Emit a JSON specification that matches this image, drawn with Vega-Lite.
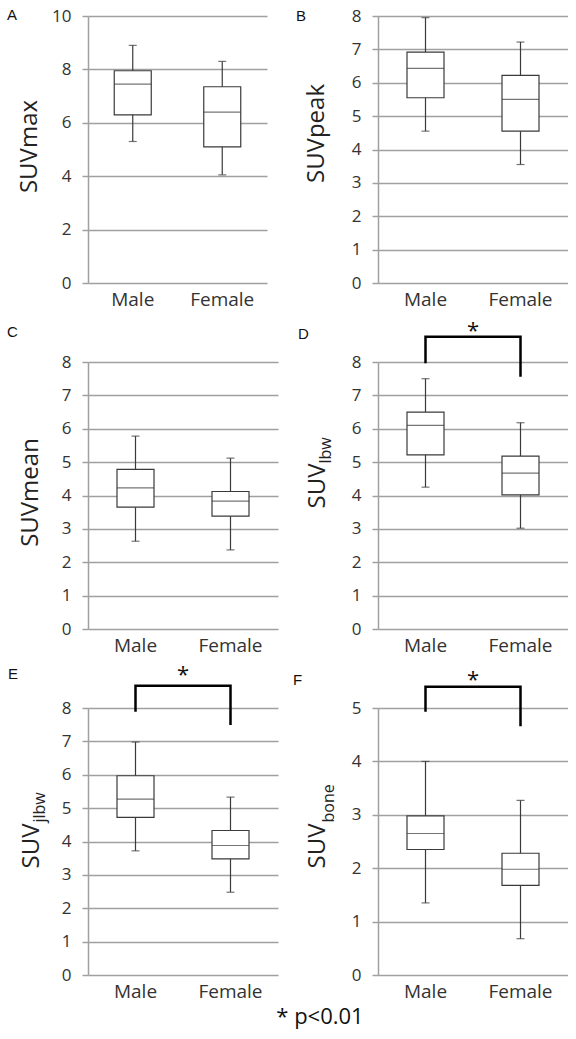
{
  "$schema": "https://vega.github.io/schema/vega-lite/v6.json",
  "padding": {"left": 7, "top": 7, "right": 0, "bottom": 10},
  "background": "white",
  "datasets": {
    "box": [
      {"panel": "A", "sex": "Male", "lo": 5.3, "q1": 6.3, "med": 7.45, "q3": 7.95, "hi": 8.9},
      {"panel": "A", "sex": "Female", "lo": 4.05, "q1": 5.1, "med": 6.4, "q3": 7.35, "hi": 8.3},
      {"panel": "B", "sex": "Male", "lo": 4.55, "q1": 5.55, "med": 6.43, "q3": 6.92, "hi": 7.95},
      {"panel": "B", "sex": "Female", "lo": 3.55, "q1": 4.55, "med": 5.5, "q3": 6.22, "hi": 7.22},
      {"panel": "C", "sex": "Male", "lo": 2.63, "q1": 3.65, "med": 4.23, "q3": 4.78, "hi": 5.78},
      {"panel": "C", "sex": "Female", "lo": 2.37, "q1": 3.38, "med": 3.83, "q3": 4.12, "hi": 5.12},
      {"panel": "D", "sex": "Male", "lo": 4.25, "q1": 5.22, "med": 6.1, "q3": 6.5, "hi": 7.5},
      {"panel": "D", "sex": "Female", "lo": 3.02, "q1": 4.02, "med": 4.67, "q3": 5.18, "hi": 6.18},
      {"panel": "E", "sex": "Male", "lo": 3.72, "q1": 4.72, "med": 5.27, "q3": 5.97, "hi": 6.98},
      {"panel": "E", "sex": "Female", "lo": 2.48, "q1": 3.48, "med": 3.88, "q3": 4.33, "hi": 5.33},
      {"panel": "F", "sex": "Male", "lo": 1.35, "q1": 2.35, "med": 2.65, "q3": 2.98, "hi": 4.0},
      {"panel": "F", "sex": "Female", "lo": 0.68, "q1": 1.68, "med": 1.98, "q3": 2.28, "hi": 3.27}
    ],
    "sig": [
      {"panel": "D", "sex": "Male", "v": 7.96, "o": 1},
      {"panel": "D", "sex": "Male", "v": 8.76, "o": 2},
      {"panel": "D", "sex": "Female", "v": 8.76, "o": 3},
      {"panel": "D", "sex": "Female", "v": 7.56, "o": 4},
      {"panel": "E", "sex": "Male", "v": 7.89, "o": 1},
      {"panel": "E", "sex": "Male", "v": 8.67, "o": 2},
      {"panel": "E", "sex": "Female", "v": 8.67, "o": 3},
      {"panel": "E", "sex": "Female", "v": 7.49, "o": 4},
      {"panel": "F", "sex": "Male", "v": 4.93, "o": 1},
      {"panel": "F", "sex": "Male", "v": 5.4, "o": 2},
      {"panel": "F", "sex": "Female", "v": 5.4, "o": 3},
      {"panel": "F", "sex": "Female", "v": 4.66, "o": 4}
    ],
    "star": [
      {"panel": "D", "sex": "Male", "v": 8.92},
      {"panel": "E", "sex": "Male", "v": 8.98},
      {"panel": "F", "sex": "Male", "v": 5.53}
    ]
  },
  "title": {"text": "* p<0.01", "orient": "bottom", "anchor": "middle", "frame": "group", "font": "Open Sans", "fontSize": 22, "fontWeight": "normal", "color": "#111111", "baseline": "middle", "offset": 16, "dx": 232},
  "columns": 2,
  "align": "all",
  "bounds": "flush",
  "spacing": {"row": 79, "column": 100},
  "config": {
    "view": {"stroke": null},
    "font": "Open Sans",
    "axis": {
      "labelFont": "Open Sans", "labelColor": "#333333",
      "titleFont": "Open Sans", "titleFontWeight": "normal", "titleColor": "#222222",
      "domainColor": "#a0a0a0", "tickColor": "#a0a0a0", "gridColor": "#a0a0a0",
      "domainWidth": 1.5, "tickWidth": 1.5, "gridWidth": 1.5
    },
    "axisY": {"grid": true, "ticks": true, "tickSize": 6, "labelPadding": 11, "labelFontSize": 17, "titleFontSize": 24, "titleAngle": 270, "titleBaseline": "alphabetic", "labelOverlap": false},
    "axisX": {"domain": false, "ticks": false, "grid": false, "labelAngle": 0, "labelPadding": 7, "labelFontSize": 19, "titleFontSize": 16, "titleAngle": 270, "titleBaseline": "alphabetic", "titleAlign": "left"},
    "title": {"font": "Liberation Sans", "fontSize": 15, "fontWeight": "normal", "color": "#111111", "anchor": "start", "frame": "group", "baseline": "middle", "offset": 0}
  },
  "concat": [
    {
      "width": 179, "height": 267,
      "title": {"text": "A", "dx": -81, "dy": 20},
      "data": {"name": "box"},
      "transform": [{"filter": "datum.panel === 'A'"}],
      "encoding": {"x": {"field": "sex", "type": "nominal", "sort": ["Male", "Female"], "scale": {"paddingInner": 0, "paddingOuter": 0}, "axis": {"title": null}}},
      "layer": [
        {"mark": {"type": "rule", "color": "#3a3a3a", "strokeWidth": 1.2}, "encoding": {"y": {"field": "lo", "type": "quantitative", "scale": {"domain": [0, 10]}, "axis": {"values": [0, 2, 4, 6, 8, 10], "title": "SUVmax", "titleX": -52, "titleY": 130, "titleAlign": "center"}}, "y2": {"field": "hi"}}},
        {"mark": {"type": "bar", "fill": "white", "stroke": "#3a3a3a", "strokeWidth": 1.2, "size": 37}, "encoding": {"y": {"field": "q1", "type": "quantitative", "axis": {"values": [0, 2, 4, 6, 8, 10], "title": "SUVmax", "titleX": -52, "titleY": 130, "titleAlign": "center"}}, "y2": {"field": "q3"}}},
        {"mark": {"type": "tick", "color": "#3a3a3a", "size": 37, "thickness": 1.2}, "encoding": {"y": {"field": "med", "type": "quantitative", "axis": {"values": [0, 2, 4, 6, 8, 10], "title": "SUVmax", "titleX": -52, "titleY": 130, "titleAlign": "center"}}}},
        {"mark": {"type": "tick", "color": "#3a3a3a", "size": 8, "thickness": 1.2}, "encoding": {"y": {"field": "lo", "type": "quantitative", "axis": {"values": [0, 2, 4, 6, 8, 10], "title": "SUVmax", "titleX": -52, "titleY": 130, "titleAlign": "center"}}}},
        {"mark": {"type": "tick", "color": "#3a3a3a", "size": 8, "thickness": 1.2}, "encoding": {"y": {"field": "hi", "type": "quantitative", "axis": {"values": [0, 2, 4, 6, 8, 10], "title": "SUVmax", "titleX": -52, "titleY": 130, "titleAlign": "center"}}}}
      ]
    },
    {
      "width": 190, "height": 267,
      "title": {"text": "B", "dx": -82, "dy": 21},
      "data": {"name": "box"},
      "transform": [{"filter": "datum.panel === 'B'"}],
      "encoding": {"x": {"field": "sex", "type": "nominal", "sort": ["Male", "Female"], "scale": {"paddingInner": 0, "paddingOuter": 0}, "axis": {"title": null}}},
      "layer": [
        {"mark": {"type": "rule", "color": "#3a3a3a", "strokeWidth": 1.2}, "encoding": {"y": {"field": "lo", "type": "quantitative", "scale": {"domain": [0, 8]}, "axis": {"values": [0, 1, 2, 3, 4, 5, 6, 7, 8], "title": "SUVpeak", "titleX": -55, "titleY": 117, "titleAlign": "center"}}, "y2": {"field": "hi"}}},
        {"mark": {"type": "bar", "fill": "white", "stroke": "#3a3a3a", "strokeWidth": 1.2, "size": 37}, "encoding": {"y": {"field": "q1", "type": "quantitative", "axis": {"values": [0, 1, 2, 3, 4, 5, 6, 7, 8], "title": "SUVpeak", "titleX": -55, "titleY": 117, "titleAlign": "center"}}, "y2": {"field": "q3"}}},
        {"mark": {"type": "tick", "color": "#3a3a3a", "size": 37, "thickness": 1.2}, "encoding": {"y": {"field": "med", "type": "quantitative", "axis": {"values": [0, 1, 2, 3, 4, 5, 6, 7, 8], "title": "SUVpeak", "titleX": -55, "titleY": 117, "titleAlign": "center"}}}},
        {"mark": {"type": "tick", "color": "#3a3a3a", "size": 8, "thickness": 1.2}, "encoding": {"y": {"field": "lo", "type": "quantitative", "axis": {"values": [0, 1, 2, 3, 4, 5, 6, 7, 8], "title": "SUVpeak", "titleX": -55, "titleY": 117, "titleAlign": "center"}}}},
        {"mark": {"type": "tick", "color": "#3a3a3a", "size": 8, "thickness": 1.2}, "encoding": {"y": {"field": "hi", "type": "quantitative", "axis": {"values": [0, 1, 2, 3, 4, 5, 6, 7, 8], "title": "SUVpeak", "titleX": -55, "titleY": 117, "titleAlign": "center"}}}}
      ]
    },
    {
      "width": 190, "height": 267,
      "title": {"text": "C", "dx": -81, "dy": -9},
      "data": {"name": "box"},
      "transform": [{"filter": "datum.panel === 'C'"}],
      "encoding": {"x": {"field": "sex", "type": "nominal", "sort": ["Male", "Female"], "scale": {"paddingInner": 0, "paddingOuter": 0}, "axis": {"title": null}}},
      "layer": [
        {"mark": {"type": "rule", "color": "#3a3a3a", "strokeWidth": 1.2}, "encoding": {"y": {"field": "lo", "type": "quantitative", "scale": {"domain": [0, 8]}, "axis": {"values": [0, 1, 2, 3, 4, 5, 6, 7, 8], "title": "SUVmean", "titleX": -51, "titleY": 130, "titleAlign": "center"}}, "y2": {"field": "hi"}}},
        {"mark": {"type": "bar", "fill": "white", "stroke": "#3a3a3a", "strokeWidth": 1.2, "size": 37}, "encoding": {"y": {"field": "q1", "type": "quantitative", "axis": {"values": [0, 1, 2, 3, 4, 5, 6, 7, 8], "title": "SUVmean", "titleX": -51, "titleY": 130, "titleAlign": "center"}}, "y2": {"field": "q3"}}},
        {"mark": {"type": "tick", "color": "#3a3a3a", "size": 37, "thickness": 1.2}, "encoding": {"y": {"field": "med", "type": "quantitative", "axis": {"values": [0, 1, 2, 3, 4, 5, 6, 7, 8], "title": "SUVmean", "titleX": -51, "titleY": 130, "titleAlign": "center"}}}},
        {"mark": {"type": "tick", "color": "#3a3a3a", "size": 8, "thickness": 1.2}, "encoding": {"y": {"field": "lo", "type": "quantitative", "axis": {"values": [0, 1, 2, 3, 4, 5, 6, 7, 8], "title": "SUVmean", "titleX": -51, "titleY": 130, "titleAlign": "center"}}}},
        {"mark": {"type": "tick", "color": "#3a3a3a", "size": 8, "thickness": 1.2}, "encoding": {"y": {"field": "hi", "type": "quantitative", "axis": {"values": [0, 1, 2, 3, 4, 5, 6, 7, 8], "title": "SUVmean", "titleX": -51, "titleY": 130, "titleAlign": "center"}}}}
      ]
    },
    {
      "width": 190, "height": 267,
      "title": {"text": "D", "dx": -80, "dy": 26},
      "encoding": {"x": {"field": "sex", "type": "nominal", "sort": ["Male", "Female"], "scale": {"paddingInner": 0, "paddingOuter": 0}, "axis": {"title": "lbw", "titleX": -48, "titleY": -166}}},
      "layer": [
        {"data": {"name": "box"}, "transform": [{"filter": "datum.panel === 'D'"}], "mark": {"type": "rule", "color": "#3a3a3a", "strokeWidth": 1.2}, "encoding": {"y": {"field": "lo", "type": "quantitative", "scale": {"domain": [0, 8]}, "axis": {"values": [0, 1, 2, 3, 4, 5, 6, 7, 8], "title": "SUV", "titleX": -54, "titleY": 101, "titleAlign": "right"}}, "y2": {"field": "hi"}}},
        {"data": {"name": "box"}, "transform": [{"filter": "datum.panel === 'D'"}], "mark": {"type": "bar", "fill": "white", "stroke": "#3a3a3a", "strokeWidth": 1.2, "size": 37}, "encoding": {"y": {"field": "q1", "type": "quantitative", "axis": {"values": [0, 1, 2, 3, 4, 5, 6, 7, 8], "title": "SUV", "titleX": -54, "titleY": 101, "titleAlign": "right"}}, "y2": {"field": "q3"}}},
        {"data": {"name": "box"}, "transform": [{"filter": "datum.panel === 'D'"}], "mark": {"type": "tick", "color": "#3a3a3a", "size": 37, "thickness": 1.2}, "encoding": {"y": {"field": "med", "type": "quantitative", "axis": {"values": [0, 1, 2, 3, 4, 5, 6, 7, 8], "title": "SUV", "titleX": -54, "titleY": 101, "titleAlign": "right"}}}},
        {"data": {"name": "box"}, "transform": [{"filter": "datum.panel === 'D'"}], "mark": {"type": "tick", "color": "#3a3a3a", "size": 8, "thickness": 1.2}, "encoding": {"y": {"field": "lo", "type": "quantitative", "axis": {"values": [0, 1, 2, 3, 4, 5, 6, 7, 8], "title": "SUV", "titleX": -54, "titleY": 101, "titleAlign": "right"}}}},
        {"data": {"name": "box"}, "transform": [{"filter": "datum.panel === 'D'"}], "mark": {"type": "tick", "color": "#3a3a3a", "size": 8, "thickness": 1.2}, "encoding": {"y": {"field": "hi", "type": "quantitative", "axis": {"values": [0, 1, 2, 3, 4, 5, 6, 7, 8], "title": "SUV", "titleX": -54, "titleY": 101, "titleAlign": "right"}}}},
        {"data": {"name": "sig"}, "transform": [{"filter": "datum.panel === 'D'"}], "mark": {"type": "line", "color": "#000000", "strokeWidth": 2.5, "clip": false}, "encoding": {"y": {"field": "v", "type": "quantitative", "axis": {"values": [0, 1, 2, 3, 4, 5, 6, 7, 8], "title": "SUV", "titleX": -54, "titleY": 101, "titleAlign": "right"}}, "order": {"field": "o", "type": "quantitative"}}},
        {"data": {"name": "star"}, "transform": [{"filter": "datum.panel === 'D'"}], "mark": {"type": "text", "text": "*", "font": "Open Sans", "fontSize": 22, "color": "#111111", "baseline": "middle", "clip": false}, "encoding": {"x": {"field": "sex", "type": "nominal", "sort": ["Male", "Female"], "bandPosition": 1}, "y": {"field": "v", "type": "quantitative", "axis": {"values": [0, 1, 2, 3, 4, 5, 6, 7, 8], "title": "SUV", "titleX": -54, "titleY": 101, "titleAlign": "right"}}}}
      ]
    },
    {
      "width": 190, "height": 267,
      "title": {"text": "E", "dx": -80, "dy": 22},
      "encoding": {"x": {"field": "sex", "type": "nominal", "sort": ["Male", "Female"], "scale": {"paddingInner": 0, "paddingOuter": 0}, "axis": {"title": "jlbw", "titleX": -44, "titleY": -153}}},
      "layer": [
        {"data": {"name": "box"}, "transform": [{"filter": "datum.panel === 'E'"}], "mark": {"type": "rule", "color": "#3a3a3a", "strokeWidth": 1.2}, "encoding": {"y": {"field": "lo", "type": "quantitative", "scale": {"domain": [0, 8]}, "axis": {"values": [0, 1, 2, 3, 4, 5, 6, 7, 8], "title": "SUV", "titleX": -50, "titleY": 115, "titleAlign": "right"}}, "y2": {"field": "hi"}}},
        {"data": {"name": "box"}, "transform": [{"filter": "datum.panel === 'E'"}], "mark": {"type": "bar", "fill": "white", "stroke": "#3a3a3a", "strokeWidth": 1.2, "size": 37}, "encoding": {"y": {"field": "q1", "type": "quantitative", "axis": {"values": [0, 1, 2, 3, 4, 5, 6, 7, 8], "title": "SUV", "titleX": -50, "titleY": 115, "titleAlign": "right"}}, "y2": {"field": "q3"}}},
        {"data": {"name": "box"}, "transform": [{"filter": "datum.panel === 'E'"}], "mark": {"type": "tick", "color": "#3a3a3a", "size": 37, "thickness": 1.2}, "encoding": {"y": {"field": "med", "type": "quantitative", "axis": {"values": [0, 1, 2, 3, 4, 5, 6, 7, 8], "title": "SUV", "titleX": -50, "titleY": 115, "titleAlign": "right"}}}},
        {"data": {"name": "box"}, "transform": [{"filter": "datum.panel === 'E'"}], "mark": {"type": "tick", "color": "#3a3a3a", "size": 8, "thickness": 1.2}, "encoding": {"y": {"field": "lo", "type": "quantitative", "axis": {"values": [0, 1, 2, 3, 4, 5, 6, 7, 8], "title": "SUV", "titleX": -50, "titleY": 115, "titleAlign": "right"}}}},
        {"data": {"name": "box"}, "transform": [{"filter": "datum.panel === 'E'"}], "mark": {"type": "tick", "color": "#3a3a3a", "size": 8, "thickness": 1.2}, "encoding": {"y": {"field": "hi", "type": "quantitative", "axis": {"values": [0, 1, 2, 3, 4, 5, 6, 7, 8], "title": "SUV", "titleX": -50, "titleY": 115, "titleAlign": "right"}}}},
        {"data": {"name": "sig"}, "transform": [{"filter": "datum.panel === 'E'"}], "mark": {"type": "line", "color": "#000000", "strokeWidth": 2.5, "clip": false}, "encoding": {"y": {"field": "v", "type": "quantitative", "axis": {"values": [0, 1, 2, 3, 4, 5, 6, 7, 8], "title": "SUV", "titleX": -50, "titleY": 115, "titleAlign": "right"}}, "order": {"field": "o", "type": "quantitative"}}},
        {"data": {"name": "star"}, "transform": [{"filter": "datum.panel === 'E'"}], "mark": {"type": "text", "text": "*", "font": "Open Sans", "fontSize": 22, "color": "#111111", "baseline": "middle", "clip": false}, "encoding": {"x": {"field": "sex", "type": "nominal", "sort": ["Male", "Female"], "bandPosition": 1}, "y": {"field": "v", "type": "quantitative", "axis": {"values": [0, 1, 2, 3, 4, 5, 6, 7, 8], "title": "SUV", "titleX": -50, "titleY": 115, "titleAlign": "right"}}}}
      ]
    },
    {
      "width": 190, "height": 267,
      "title": {"text": "F", "dx": -85, "dy": 23},
      "encoding": {"x": {"field": "sex", "type": "nominal", "sort": ["Male", "Female"], "scale": {"paddingInner": 0, "paddingOuter": 0}, "axis": {"title": "bone", "titleX": -45, "titleY": -153}}},
      "layer": [
        {"data": {"name": "box"}, "transform": [{"filter": "datum.panel === 'F'"}], "mark": {"type": "rule", "color": "#3a3a3a", "strokeWidth": 1.2}, "encoding": {"y": {"field": "lo", "type": "quantitative", "scale": {"domain": [0, 5]}, "axis": {"values": [0, 1, 2, 3, 4, 5], "title": "SUV", "titleX": -54, "titleY": 115, "titleAlign": "right"}}, "y2": {"field": "hi"}}},
        {"data": {"name": "box"}, "transform": [{"filter": "datum.panel === 'F'"}], "mark": {"type": "bar", "fill": "white", "stroke": "#3a3a3a", "strokeWidth": 1.2, "size": 37}, "encoding": {"y": {"field": "q1", "type": "quantitative", "axis": {"values": [0, 1, 2, 3, 4, 5], "title": "SUV", "titleX": -54, "titleY": 115, "titleAlign": "right"}}, "y2": {"field": "q3"}}},
        {"data": {"name": "box"}, "transform": [{"filter": "datum.panel === 'F'"}], "mark": {"type": "tick", "color": "#3a3a3a", "size": 37, "thickness": 1.2}, "encoding": {"y": {"field": "med", "type": "quantitative", "axis": {"values": [0, 1, 2, 3, 4, 5], "title": "SUV", "titleX": -54, "titleY": 115, "titleAlign": "right"}}}},
        {"data": {"name": "box"}, "transform": [{"filter": "datum.panel === 'F'"}], "mark": {"type": "tick", "color": "#3a3a3a", "size": 8, "thickness": 1.2}, "encoding": {"y": {"field": "lo", "type": "quantitative", "axis": {"values": [0, 1, 2, 3, 4, 5], "title": "SUV", "titleX": -54, "titleY": 115, "titleAlign": "right"}}}},
        {"data": {"name": "box"}, "transform": [{"filter": "datum.panel === 'F'"}], "mark": {"type": "tick", "color": "#3a3a3a", "size": 8, "thickness": 1.2}, "encoding": {"y": {"field": "hi", "type": "quantitative", "axis": {"values": [0, 1, 2, 3, 4, 5], "title": "SUV", "titleX": -54, "titleY": 115, "titleAlign": "right"}}}},
        {"data": {"name": "sig"}, "transform": [{"filter": "datum.panel === 'F'"}], "mark": {"type": "line", "color": "#000000", "strokeWidth": 2.5, "clip": false}, "encoding": {"y": {"field": "v", "type": "quantitative", "axis": {"values": [0, 1, 2, 3, 4, 5], "title": "SUV", "titleX": -54, "titleY": 115, "titleAlign": "right"}}, "order": {"field": "o", "type": "quantitative"}}},
        {"data": {"name": "star"}, "transform": [{"filter": "datum.panel === 'F'"}], "mark": {"type": "text", "text": "*", "font": "Open Sans", "fontSize": 22, "color": "#111111", "baseline": "middle", "clip": false}, "encoding": {"x": {"field": "sex", "type": "nominal", "sort": ["Male", "Female"], "bandPosition": 1}, "y": {"field": "v", "type": "quantitative", "axis": {"values": [0, 1, 2, 3, 4, 5], "title": "SUV", "titleX": -54, "titleY": 115, "titleAlign": "right"}}}}
      ]
    }
  ]
}
